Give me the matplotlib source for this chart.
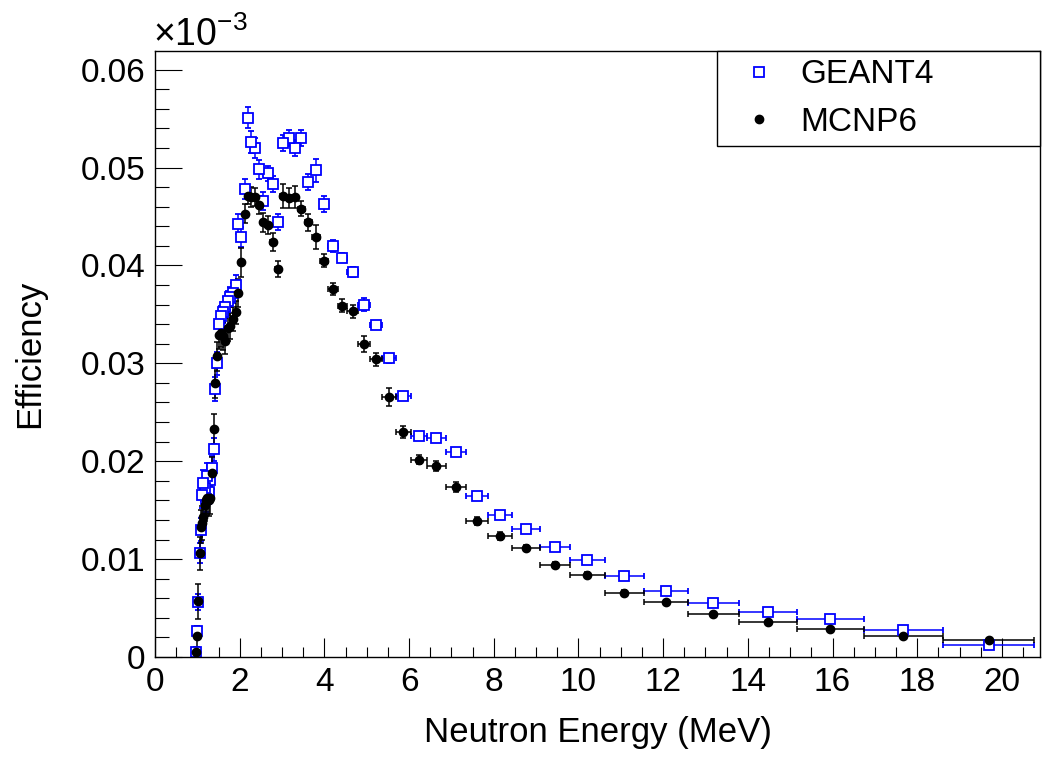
import numpy as np
import matplotlib
matplotlib.use('Agg')
import matplotlib.pyplot as plt
from matplotlib.ticker import MultipleLocator, FuncFormatter
from matplotlib.lines import Line2D

plt.rcParams['font.family'] = ['Liberation Sans', 'DejaVu Sans']
plt.rcParams['mathtext.default'] = 'regular'

# time-of-flight bins, edges in MeV (high energy -> low energy)
bin_edges = [20.77, 18.60, 16.74, 15.16, 13.78, 12.59, 11.54, 10.62, 9.807, 9.083,
             8.436, 7.856, 7.333, 6.861, 6.433, 6.044, 5.690, 5.365, 5.068, 4.794,
             4.542, 4.310, 4.095, 3.895, 3.710, 3.538, 3.377, 3.228, 3.087, 2.956,
             2.833, 2.718, 2.609, 2.507, 2.411, 2.320, 2.234, 2.153, 2.076, 2.003,
             1.934, 1.869, 1.807, 1.748, 1.691, 1.638, 1.586, 1.538, 1.491, 1.447,
             1.404, 1.364, 1.325, 1.287, 1.252, 1.217, 1.185, 1.153, 1.123, 1.094,
             1.065, 1.039, 1.013, 0.988, 0.964]

# efficiency in units of 1e-3, one value per bin
geant4 = [0.00122, 0.00276, 0.00385, 0.00456, 0.00554, 0.00673, 0.0083, 0.00987, 0.01126, 0.01303,
          0.01449, 0.01643, 0.02089, 0.02238, 0.02258, 0.02663, 0.0305, 0.0339, 0.0360, 0.0393,
          0.0408, 0.0420, 0.0463, 0.0497, 0.0485, 0.0530, 0.0520, 0.0530, 0.0525, 0.0444,
          0.0483, 0.0494, 0.0466, 0.0498, 0.0520, 0.0526, 0.0551, 0.0478, 0.0429, 0.0442,
          0.0380, 0.0372, 0.0368, 0.0364, 0.0357, 0.0352, 0.0348, 0.0340, 0.0300, 0.0274,
          0.0212, 0.0193, 0.0181, 0.0169, 0.0185, 0.0161, 0.0173, 0.0178, 0.0165, 0.0130,
          0.0106, 0.0056, 0.0027, 0.0005]
geant4_err = [0.0001, 0.0002, 0.0002, 0.0002, 0.0002, 0.0002, 0.0002, 0.0002, 0.0002, 0.0002,
              0.0002, 0.0003, 0.0003, 0.0003, 0.0003, 0.0003, 0.0005, 0.0004, 0.0007, 0.0005,
              0.0005, 0.0006, 0.0008, 0.0012, 0.0008, 0.0008, 0.0008, 0.0008, 0.0008, 0.0008,
              0.0008, 0.0008, 0.0009, 0.0010, 0.0010, 0.0011, 0.0011, 0.0010, 0.0010, 0.0010,
              0.0010, 0.0010, 0.0010, 0.0010, 0.0011, 0.0011, 0.0011, 0.0012, 0.0012, 0.0012,
              0.0012, 0.0012, 0.0013, 0.0013, 0.0013, 0.0013, 0.0013, 0.0013, 0.0013, 0.0012,
              0.0010, 0.0008, 0.0005, 0.0003]

mcnp6 = [0.0017, 0.00218, 0.00281, 0.00354, 0.00435, 0.00558, 0.00656, 0.0084, 0.00939, 0.01115,
         0.01238, 0.01388, 0.01738, 0.01949, 0.02017, 0.0230, 0.02656, 0.0304, 0.0320, 0.0353,
         0.0359, 0.0376, 0.0405, 0.0429, 0.0444, 0.0458, 0.0470, 0.0469, 0.0471, 0.0396,
         0.0424, 0.0441, 0.0444, 0.0462, 0.0470, 0.0470, 0.0471, 0.0453, 0.0403, 0.0372,
         0.0352, 0.0345, 0.0338, 0.0336, 0.0323, 0.0328, 0.0331, 0.0329, 0.0307, 0.0280,
         0.0233, 0.0188, 0.0162, 0.0160, 0.0162, 0.0160, 0.0155, 0.0143, 0.0137, 0.0133,
         0.0106, 0.0057, 0.0021, 0.0005]
mcnp6_err = [0.0002, 0.0002, 0.0002, 0.0002, 0.0002, 0.0002, 0.0003, 0.0003, 0.0003, 0.0003,
             0.0004, 0.0004, 0.0005, 0.0005, 0.0005, 0.0006, 0.0009, 0.0007, 0.0008, 0.0007,
             0.0007, 0.0006, 0.0007, 0.0012, 0.0009, 0.0008, 0.0011, 0.0010, 0.0012, 0.0008,
             0.0009, 0.0009, 0.0010, 0.0009, 0.0009, 0.0010, 0.0008, 0.0010, 0.0015, 0.0014,
             0.0012, 0.0012, 0.0013, 0.0013, 0.0013, 0.0014, 0.0014, 0.0014, 0.0015, 0.0015,
             0.0015, 0.0016, 0.0016, 0.0016, 0.0016, 0.0016, 0.0016, 0.0016, 0.0017, 0.0017,
             0.0017, 0.0018, 0.0011, 0.0005]

edges = np.array(bin_edges)
x = (edges[:-1] + edges[1:]) / 2
xerr = (edges[:-1] - edges[1:]) / 2

W, H = 1043, 758
fig = plt.figure(figsize=(W / 100, H / 100), dpi=100)
ax = fig.add_axes([155 / W, 1 - 657 / H, 885 / W, 606 / H])

ax.errorbar(x, geant4, xerr=xerr, yerr=geant4_err, fmt='s', ms=7, mfc='white',
            mec='blue', mew=1.3, ecolor='blue', elinewidth=1.1, capsize=2.4, capthick=1.1)
ax.errorbar(x, mcnp6, xerr=xerr, yerr=mcnp6_err, fmt='o', ms=6, color='black',
            ecolor='black', elinewidth=1.1, capsize=2.4, capthick=1.1)

ax.set_xlim(0, 20.9)
ax.set_ylim(0, 0.0619)

ax.xaxis.set_major_locator(MultipleLocator(2))
ax.xaxis.set_minor_locator(MultipleLocator(0.5))
ax.yaxis.set_major_locator(MultipleLocator(0.01))
ax.yaxis.set_minor_locator(MultipleLocator(0.002))
ax.yaxis.set_major_formatter(FuncFormatter(lambda v, p: '0' if abs(v) < 1e-9 else f'{v:.2f}'))
ax.xaxis.set_major_formatter(FuncFormatter(lambda v, p: f'{v:.0f}'))

ax.tick_params(which='both', direction='in', top=False, right=False, width=0.8)
ax.tick_params(axis='y', which='major', length=19.4, labelsize=24, pad=7)
ax.tick_params(axis='y', which='minor', length=10)
ax.tick_params(axis='x', which='major', length=13.7, labelsize=24, pad=7)
ax.tick_params(axis='x', which='minor', length=7)
for s in ax.spines.values():
    s.set_linewidth(1.0)

ax.set_xlabel('Neutron Energy (MeV)', fontsize=25)
ax.set_ylabel('Efficiency', fontsize=25)
ax.xaxis.set_label_coords(0.5, (657 - 716) / 606)
ax.yaxis.set_label_coords((46 - 155) / 885, 0.5)

fig.text(153 / W, 1 - 46 / H, '×10$^{-3}$', fontsize=27, ha='left', va='baseline')

handles = [Line2D([], [], marker='s', ls='none', ms=7, mfc='white', mec='blue', mew=1.3),
           Line2D([], [], marker='o', ls='none', ms=6, color='black')]
leg = ax.legend(handles, ['GEANT4', 'MCNP6'], loc='upper left',
                bbox_to_anchor=((717 - 155) / 885, 1.0, (1040 - 717) / 885, 0.0),
                mode='expand', fontsize=24, frameon=True, fancybox=False,
                edgecolor='black', framealpha=1, borderaxespad=0, borderpad=0.25,
                handlelength=2.0, handletextpad=0.24, labelspacing=0.5)
leg.get_frame().set_linewidth(1.0)

fig.savefig('out.png', dpi=100)
